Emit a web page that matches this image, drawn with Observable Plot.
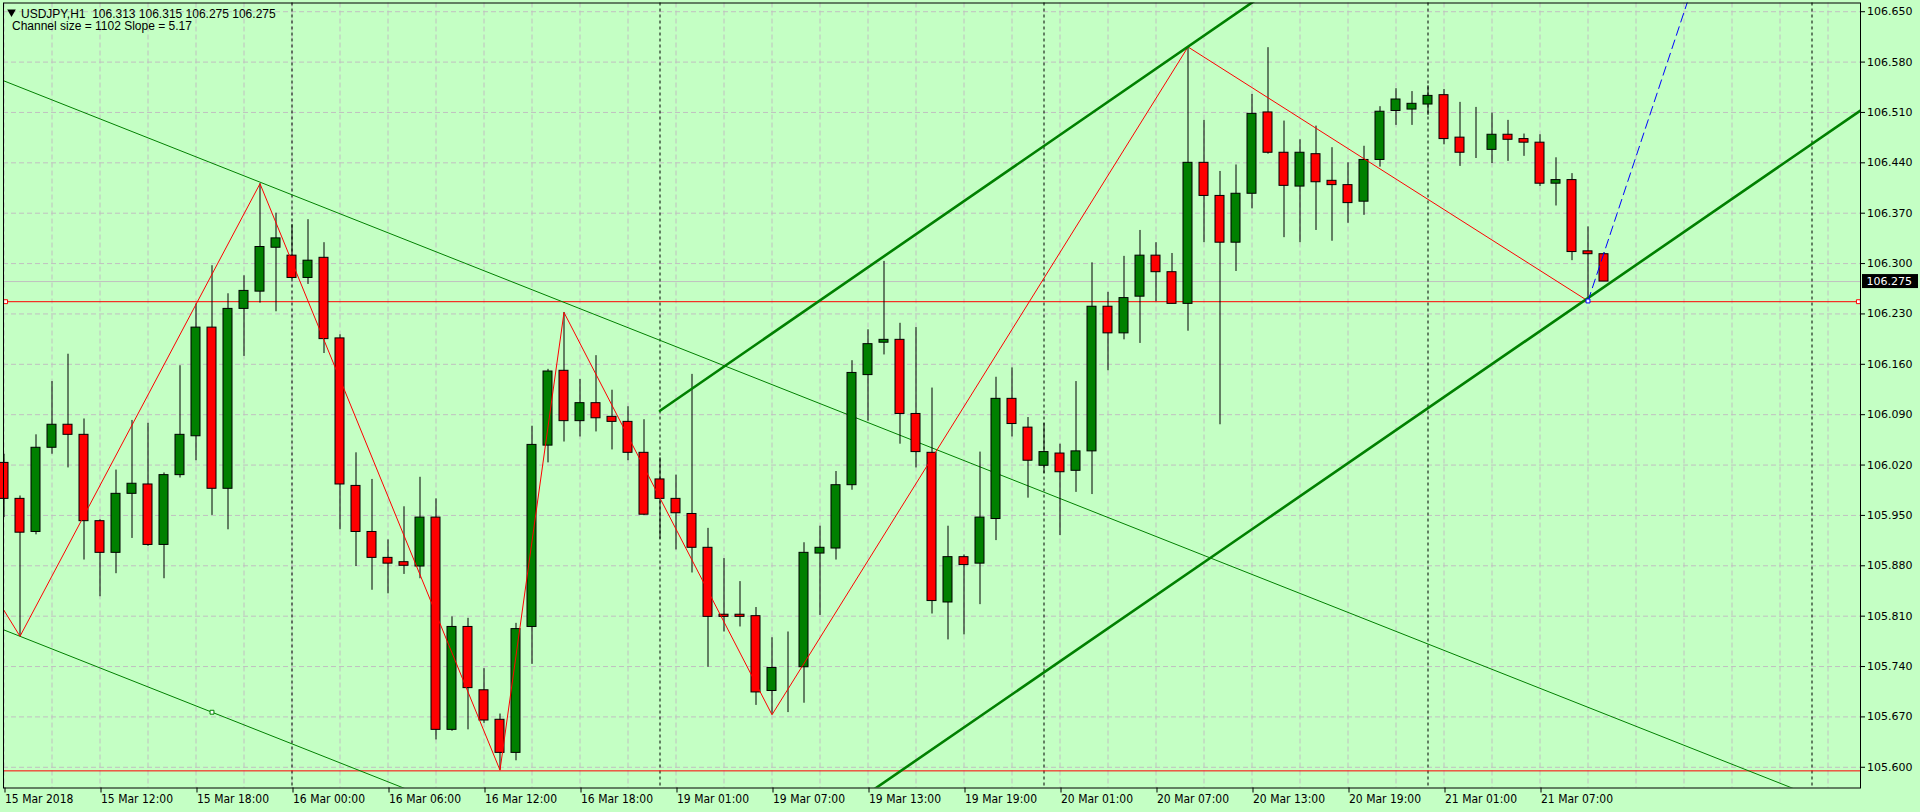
<!DOCTYPE html>
<html><head><meta charset="utf-8">
<script src="https://cdn.jsdelivr.net/npm/d3@7"></script>
<script src="https://cdn.jsdelivr.net/npm/@observablehq/plot@0.6"></script>
<style>
html,body{margin:0;padding:0;background:#c4ffc4;}
#chart{width:1920px;height:812px;overflow:hidden;}
</style></head><body><div id="chart"></div>
<script>
// ---- data (bar index 0 = 15 Mar 2018 06:00, H1 bars) ----
const open = [106.023,105.973,105.927,106.044,106.076,106.062,105.942,105.898,105.980,105.993,
105.909,106.006,106.060,106.211,105.987,106.237,106.261,106.322,106.311,106.280,
106.308,106.196,105.991,105.927,105.891,105.885,105.879,105.947,105.652,105.795,
105.707,105.666,105.620,105.795,106.047,106.151,106.081,106.106,106.087,106.080,
106.037,106.000,105.973,105.952,105.905,105.812,105.812,105.810,105.706,105.738,
105.739,105.897,105.904,105.992,106.145,106.190,106.194,106.091,106.037,105.829,
105.892,105.883,105.945,106.112,106.072,106.019,106.036,106.012,106.039,106.240,
106.203,106.254,106.311,106.288,106.244,106.440,106.394,106.329,106.397,106.510,
106.454,106.407,106.452,106.415,106.409,106.386,106.444,106.512,106.514,106.521,
106.534,106.475,106.456,106.458,106.479,106.473,106.468,106.411,106.416,106.317,106.313];
const high = [106.035,105.977,106.062,106.136,106.174,106.084,105.944,106.013,106.082,106.078,
106.009,106.158,106.244,106.297,106.258,106.283,106.411,106.370,106.354,106.361,
106.329,106.201,106.037,106.000,105.916,105.962,106.003,105.973,105.809,105.807,
105.737,105.674,105.800,106.074,106.153,106.232,106.139,106.172,106.124,106.101,
106.083,106.030,106.006,106.146,105.932,105.890,105.858,105.822,105.780,105.788,
105.912,105.935,106.011,106.165,106.208,106.303,106.217,106.211,106.127,105.935,
105.895,106.038,106.142,106.155,106.086,106.078,106.049,106.136,106.301,106.260,
106.310,106.346,106.329,106.314,106.601,106.499,106.428,106.437,106.535,106.600,
106.498,106.472,106.491,106.461,106.440,106.463,106.518,106.543,106.539,106.547,
106.542,106.524,106.517,106.509,106.499,106.480,106.479,106.447,106.425,106.351,106.315];
const low = [105.947,105.782,105.923,106.035,106.016,105.888,105.837,105.869,105.918,105.907,
105.862,106.002,106.026,105.950,105.930,106.171,106.245,106.233,106.278,106.271,
106.175,105.930,105.879,105.846,105.841,105.868,105.862,105.638,105.650,105.652,
105.661,105.596,105.609,105.743,106.023,106.052,106.059,106.066,106.041,106.026,
105.950,105.917,105.902,105.870,105.739,105.788,105.795,105.686,105.673,105.676,
105.689,105.811,105.888,105.985,106.081,106.173,106.049,106.016,105.813,105.777,
105.784,105.826,105.915,106.059,105.974,106.008,105.922,105.982,105.979,106.151,
106.194,106.189,106.247,106.244,106.206,106.329,106.076,106.289,106.376,106.452,
106.336,106.329,106.346,106.331,106.356,106.367,106.434,106.492,106.492,106.506,
106.465,106.435,106.446,106.439,106.442,106.449,106.407,106.380,106.304,106.248,106.275];
const close = [105.973,105.926,106.044,106.076,106.062,105.942,105.898,105.980,105.994,105.909,
106.006,106.062,106.211,105.987,106.237,106.262,106.323,106.335,106.280,106.304,
106.195,105.993,105.927,105.891,105.883,105.880,105.947,105.652,105.795,105.710,
105.665,105.620,105.792,106.048,106.150,106.081,106.106,106.085,106.080,106.037,
105.951,105.973,105.953,105.905,105.809,105.809,105.809,105.704,105.738,105.738,
105.898,105.905,105.992,106.148,106.188,106.194,106.091,106.038,105.831,105.892,
105.881,105.947,106.112,106.077,106.026,106.038,106.010,106.039,106.240,106.203,
106.252,106.311,106.288,106.244,106.440,106.394,106.329,106.397,106.508,106.454,
106.408,106.454,106.413,106.409,106.384,106.444,106.511,106.528,106.522,106.533,
106.473,106.454,106.456,106.479,106.472,106.468,106.411,106.416,106.316,106.313,106.275];

const tickBars   = [0,6,12,18,24,30,36,42,48,54,60,66,72,78,84,90,96];
const tickLabels = ["15 Mar 2018","15 Mar 12:00","15 Mar 18:00","16 Mar 00:00","16 Mar 06:00",
  "16 Mar 12:00","16 Mar 18:00","19 Mar 01:00","19 Mar 07:00","19 Mar 13:00","19 Mar 19:00",
  "20 Mar 01:00","20 Mar 07:00","20 Mar 13:00","20 Mar 19:00","21 Mar 01:00","21 Mar 07:00"];
const priceTicks = [105.600,105.670,105.740,105.810,105.880,105.950,106.020,106.090,106.160,
  106.230,106.300,106.370,106.440,106.510,106.580,106.650];
const gridBars = [0,3,6,9,12,15,18,21,24,27,30,33,36,39,42,45,48,51,54,57,60,63,66,69,72,75,78,
  81,84,87,90,93,96,99,102,105,108,111,114];
const daySeparators = [18,41,65,89,113];
const bidPrice = 106.275;
const redLevels = [106.247,105.595];
const redLevelMarkers = [{k:0.1,p:106.247},{k:115.9,p:106.247}];
const zigzag = [{k:-1,p:105.854},{k:1,p:105.782},{k:16,p:106.411},{k:31,p:105.596},{k:35,p:106.232},
  {k:48,p:105.673},{k:74,p:106.601},{k:99,p:106.248}];
const trendUpperThin = [{k:-1,p:106.5626},{k:120,p:105.4987}];
const trendLowerThin = [{k:-1,p:105.7996},{k:40,p:105.4391}];
const trendMarker = [{k:13,p:105.6765}];
const channelUpper = [{k:41,p:106.0955},{k:80,p:106.6934}];
const channelLower = [{k:41,p:105.3647},{k:117,p:106.5275}];
const projection = [{k:99,p:106.248},{k:106,p:106.716}];
const projMarker = [{k:99,p:106.248}];
const header1 = "USDJPY,H1  106.313 106.315 106.275 106.275";
const header2 = "Channel size = 1102 Slope = 5.17";

// ---- build ----
const bars = open.map((o,i)=>({k:i,open:o,high:high[i],low:low[i],close:close[i]}));
const labelByBar = new Map(tickBars.map((b,i)=>[b,tickLabels[i]]));
const W=1920, H=812, mL=3, mR=60, mT=2.5, mB=24.5;
const barPx=16, firstBarPx=3.5;
const xDomain=[(mL-firstBarPx)/barPx,(W-mR-firstBarPx)/barPx];
const yDomain=[105.5712,106.6621];
const half=4.5/barPx;
const bodyFill = d => d.close>d.open ? "#008000" : d.close<d.open ? "#ff0000" : "#000000";
const xLabelFont = "'DejaVu Sans Condensed','Liberation Sans Narrow','Arial Narrow','Liberation Sans',sans-serif";

const chart = Plot.plot({
  width:W, height:H, marginLeft:mL, marginRight:mR, marginTop:mT, marginBottom:mB,
  style:{background:"#c4ffc4", color:"black", overflow:"visible"},
  x:{domain:xDomain, label:null}, y:{domain:yDomain, label:null},
  marks:[
    Plot.gridY(priceTicks,{stroke:"#c0c0c0",strokeOpacity:1,strokeDasharray:"5,3"}),
    Plot.gridX(gridBars,{stroke:"#c0c0c0",strokeOpacity:1,strokeDasharray:"5,3"}),
    Plot.ruleY([bidPrice],{stroke:"#c0c0c0",strokeWidth:1}),
    Plot.ruleX(daySeparators,{stroke:"black",strokeDasharray:"3,3"}),
    Plot.ruleY(redLevels,{stroke:"#ff0000",strokeWidth:1}),
    Plot.line(trendUpperThin,{x:"k",y:"p",stroke:"#008000",strokeWidth:1,clip:true}),
    Plot.line(trendLowerThin,{x:"k",y:"p",stroke:"#008000",strokeWidth:1,clip:true}),
    Plot.ruleX(bars,{x:"k",y1:"low",y2:"high",stroke:"black",strokeWidth:1}),
    Plot.rect(bars,{x1:d=>d.k-half,x2:d=>d.k+half,y1:"open",y2:"close",fill:bodyFill,stroke:"black",strokeWidth:1}),
    Plot.line(zigzag,{x:"k",y:"p",stroke:"#ff0000",strokeWidth:1,clip:true}),
    Plot.line(channelUpper,{x:"k",y:"p",stroke:"#008000",strokeWidth:2.6,clip:true}),
    Plot.line(channelLower,{x:"k",y:"p",stroke:"#008000",strokeWidth:2.6,clip:true}),
    Plot.line(projection,{x:"k",y:"p",stroke:"#0000ff",strokeWidth:1,strokeDasharray:"9,5",clip:true}),
    Plot.dot(redLevelMarkers,{x:"k",y:"p",symbol:"square",r:2.2,fill:"white",stroke:"#ff0000",strokeWidth:1}),
    Plot.dot(trendMarker,{x:"k",y:"p",symbol:"square",r:2.2,fill:"white",stroke:"#008000",strokeWidth:1}),
    Plot.dot(projMarker,{x:"k",y:"p",symbol:"square",r:2.2,fill:"white",stroke:"#0000ff",strokeWidth:1}),
    Plot.axisY(priceTicks,{anchor:"right",tickFormat:d=>d.toFixed(3),tickSize:4,tickPadding:2.5,
      fontSize:11,fontFamily:"'DejaVu Sans',sans-serif",textAnchor:"start",label:null}),
    Plot.axisX(tickBars,{anchor:"bottom",tickFormat:d=>labelByBar.get(d),tickSize:5,tickPadding:1.5,
      fontSize:12,fontFamily:xLabelFont,textAnchor:"start",dx:1,label:null}),
    Plot.frame({stroke:"black",strokeWidth:1}),
    Plot.dot([0],{frameAnchor:"top-left",dx:8,dy:9,symbol:"triangle",rotate:180,r:3.2,fill:"black"}),
    Plot.text([header1],{frameAnchor:"top-left",dx:17.5,dy:6,text:d=>d,fontSize:12,
      fontFamily:"'Liberation Sans',sans-serif",textAnchor:"start",fill:"black"}),
    Plot.text([header2],{frameAnchor:"top-left",dx:8.5,dy:18.5,text:d=>d,fontSize:12,
      fontFamily:"'Liberation Sans',sans-serif",textAnchor:"start",fill:"black"})
  ]
});
document.getElementById("chart").appendChild(chart);

// current bid price tag on the price axis
const svg = d3.select(chart);
const yb = chart.scale("y").apply(bidPrice);
const tag = svg.append("g");
tag.append("rect").attr("x",W-mR+2).attr("y",yb-7).attr("width",56).attr("height",14).attr("fill","black");
tag.append("text").attr("x",W-mR+6.5).attr("y",yb).attr("dy","0.35em").attr("text-anchor","start")
  .attr("font-family","'DejaVu Sans',sans-serif").attr("font-size",11).attr("fill","white")
  .text(bidPrice.toFixed(3));
</script></body></html>
